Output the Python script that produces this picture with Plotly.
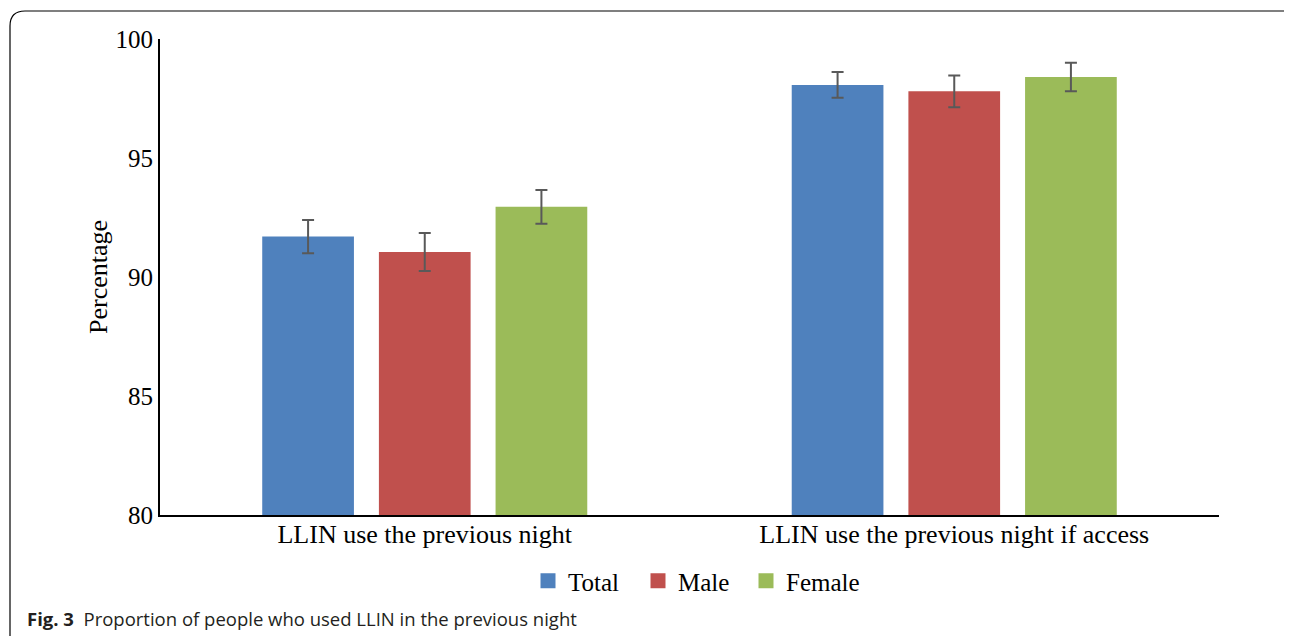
import plotly.graph_objects as go

categories = ["LLIN use the previous night", "LLIN use the previous night if access"]
series_names = ["Total", "Male", "Female"]
total_vals = [91.7, 98.07]
male_vals = [91.05, 97.8]
female_vals = [92.95, 98.4]
total_err = [0.7, 0.54]
male_err = [0.8, 0.67]
female_err = [0.71, 0.6]
colors = ["#4F81BD", "#C0504D", "#9BBB59"]
y_ticks = [80, 85, 90, 95, 100]

OFF = 8  # page body margin
W, H = 1292 - OFF, 636 - OFF
L, R, T, B = 160 - OFF, 73, 39 - OFF, 121
pw, ph = W - L - R, H - T - B

def px(x):
    return (x - OFF - L) / pw

def py(y):
    return (H - B - (y - OFF)) / ph

legend_ids = ["legend", "legend2", "legend3"]
legend_square_x = [541, 651, 759]

fig = go.Figure()
for name, vals, errs, col, lid in zip(series_names, [total_vals, male_vals, female_vals],
                                      [total_err, male_err, female_err], colors, legend_ids):
    fig.add_trace(go.Bar(
        x=categories, y=vals, name=name, marker=dict(color=col, line=dict(width=0)),
        error_y=dict(type="data", array=errs, visible=True, color="#595959",
                     thickness=2, width=6),
        showlegend=False,
    ))
    fig.add_trace(go.Scatter(
        x=[None], y=[None], mode="markers", name=name, legend=lid,
        marker=dict(symbol="square", size=15, color=col),
    ))

serif = "Liberation Serif, Times New Roman, serif"

# rounded frame
r = 15
x0, y0, x1, y1 = 10, 11, 1306, 660
path = (f"M {px(x0)},{py(y1)} L {px(x0)},{py(y0 + r)} "
        f"Q {px(x0)},{py(y0)} {px(x0 + r)},{py(y0)} "
        f"L {px(x1 - r)},{py(y0)} Q {px(x1)},{py(y0)} {px(x1)},{py(y0 + r)} "
        f"L {px(x1)},{py(y1)}")

legends = {}
for lid, sx in zip(legend_ids, legend_square_x):
    legends[lid] = dict(orientation="h", x=px(sx - 13), xanchor="left", y=py(581),
                        yanchor="middle", font=dict(family=serif, size=25, color="black"),
                        itemwidth=30, bgcolor="rgba(0,0,0,0)")

fig.update_layout(
    width=W, height=H,
    margin=dict(l=L, r=R, t=T, b=B),
    paper_bgcolor="white", plot_bgcolor="white",
    barmode="group", bargap=0.339, bargroupgap=0.214,
    font=dict(family=serif, size=22, color="black"),
    xaxis=dict(showline=True, linecolor="black", linewidth=2, ticks="",
               tickfont=dict(family=serif, size=26, color="black"), showgrid=False,
               ticklabelstandoff=-5),
    yaxis=dict(range=[80, 100], tickvals=y_ticks, showline=True, linecolor="black",
               linewidth=2, ticks="", showgrid=False, zeroline=False,
               tickfont=dict(family=serif, size=25, color="black"),
               title=dict(text="Percentage", font=dict(family=serif, size=26, color="black"),
                          standoff=0)),
    **legends,
    shapes=[dict(type="path", xref="paper", yref="paper", path=path,
                 line=dict(color="black", width=1.2), layer="below")],
    annotations=[dict(xref="paper", yref="paper", x=px(25), y=py(618),
                      xanchor="left", yanchor="middle", showarrow=False,
                      text="<b>Fig. 3</b>  Proportion of people who used LLIN in the previous night",
                      font=dict(family="Open Sans, Noto Sans, sans-serif", size=18.5, color="#231f20"))],
)

fig.write_html("out.html")
